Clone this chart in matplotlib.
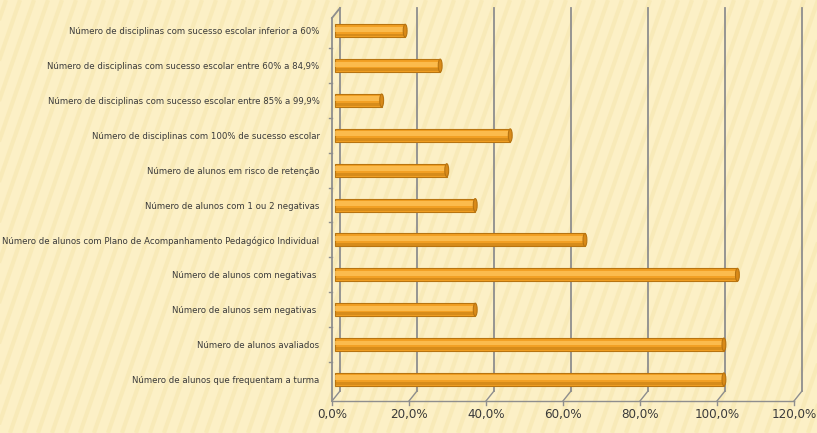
import numpy as np
import matplotlib
matplotlib.use("Agg")
import matplotlib.pyplot as plt
from matplotlib.patches import Ellipse
from matplotlib.ticker import FuncFormatter

# --- Data (percentagens, de cima para baixo) ---
categorias = [
    "Número de disciplinas com sucesso escolar inferior a 60%",
    "Número de disciplinas com sucesso escolar entre 60% a 84,9%",
    "Número de disciplinas com sucesso escolar entre 85% a 99,9%",
    "Número de disciplinas com 100% de sucesso escolar",
    "Número de alunos em risco de retenção",
    "Número de alunos com 1 ou 2 negativas",
    "Número de alunos com Plano de Acompanhamento Pedagógico Individual",
    "Número de alunos com negativas ",
    "Número de alunos sem negativas ",
    "Número de alunos avaliados",
    "Número de alunos que frequentam a turma",
]
valores = [18.2, 27.3, 12.1, 45.5, 29.0, 36.4, 64.9, 104.5, 36.4, 101.0, 101.0]
ticks_x = [0, 20, 40, 60, 80, 100, 120]

# --- Style ---
BG = "#FCF0C6"
STRIPE = "#F2DFA0"
GRID = "#8E8E8E"
BAR = "#F2A024"
BAR_DARK = "#B87410"
BAR_LIGHT = "#FFC55C"
TXT = "#3A3A3A"
FONT = ["DejaVu Sans"]

W, H = 817, 433
fig = plt.figure(figsize=(W / 100, H / 100), dpi=100, facecolor=BG)

# background stripes
bg = fig.add_axes([0, 0, 1, 1], zorder=-10)
bg.set_xlim(0, W)
bg.set_ylim(0, H)
bg.axis("off")
for x0 in np.arange(-200, W + 50, 14):
    bg.plot([x0, x0 + 150], [0, H], color=STRIPE, lw=3.0, alpha=0.35,
            solid_capstyle="butt")

# front plane axes: 0% at x=332 px, 120% at x=794 px, top 8 px, bottom 401 px
left, right, top, bottom = 332, 794, 8, 401
ax = fig.add_axes([left / W, 1 - bottom / H, (right - left) / W, (bottom - top) / H])
ax.patch.set_alpha(0)
n = len(categorias)
y_top, y_bot = -0.652, n - 1 + 0.62
ax.set_xlim(0, 120)
ax.set_ylim(y_bot, y_top)
for s in ax.spines.values():
    s.set_visible(False)

# 3D depth offset of back wall
dx = 8 / ((right - left) / 120)
dy = 10 / ((bottom - top) / (y_bot - y_top))

# back wall gridlines and floor
for t in ticks_x:
    ax.plot([t + dx, t + dx], [y_top, y_bot - dy], color=GRID, lw=1.3,
            clip_on=False, zorder=1)
    ax.plot([t, t + dx], [y_bot, y_bot - dy], color=GRID, lw=1.0,
            clip_on=False, zorder=1)
    ax.plot([t, t], [y_bot, y_bot + 0.12], color=GRID, lw=1.0,
            clip_on=False, zorder=1)
# front bottom axis
ax.plot([0, 120], [y_bot, y_bot], color=GRID, lw=1.0, clip_on=False, zorder=1)
# front left axis + top diagonal
ax.plot([0, 0], [y_bot, y_top + dy], color=GRID, lw=1.3, clip_on=False, zorder=1)
ax.plot([0, dx], [y_top + dy, y_top], color=GRID, lw=1.3, clip_on=False, zorder=1)
# category boundary ticks on left axis
for b in np.arange(0.5, n - 1, 1.0):
    ax.plot([-0.9, 0], [b, b], color=GRID, lw=1.0, clip_on=False, zorder=1)

# bars (cylinder look)
ypos = np.arange(n)
h = 0.37
ax.barh(ypos, valores, height=h, left=0.8, color=BAR, edgecolor=BAR_DARK,
        linewidth=0.8, zorder=3)
ax.barh(ypos - h * 0.12, np.array(valores) - 0.3, height=h * 0.38, left=0.9,
        color=BAR_LIGHT, linewidth=0, zorder=4, alpha=0.75)
ax.barh(ypos + h * 0.33, np.array(valores) - 0.3, height=h * 0.22, left=0.9,
        color=BAR_DARK, linewidth=0, zorder=4, alpha=0.45)
for yi, v in zip(ypos, valores):
    ax.add_patch(Ellipse((v + 0.8, yi), 1.0, h, facecolor="#D98A18",
                         edgecolor=BAR_DARK, lw=0.8, zorder=5))

# tick labels
ax.set_xticks(ticks_x)
ax.xaxis.set_major_formatter(FuncFormatter(lambda v, p: f"{v:.1f}%".replace(".", ",")))
ax.tick_params(axis="x", length=0, pad=5, labelsize=9.5, labelcolor=TXT)
for lab in ax.get_xticklabels():
    lab.set_fontfamily(FONT)
    lab.set_fontstretch("condensed")
ax.set_yticks(ypos)
ax.set_yticklabels(categorias, fontsize=6.8, color=TXT, fontfamily=FONT,
                   fontstretch="condensed")
ax.tick_params(axis="y", length=0, pad=9)

fig.savefig("out.png", dpi=100, facecolor=BG)
